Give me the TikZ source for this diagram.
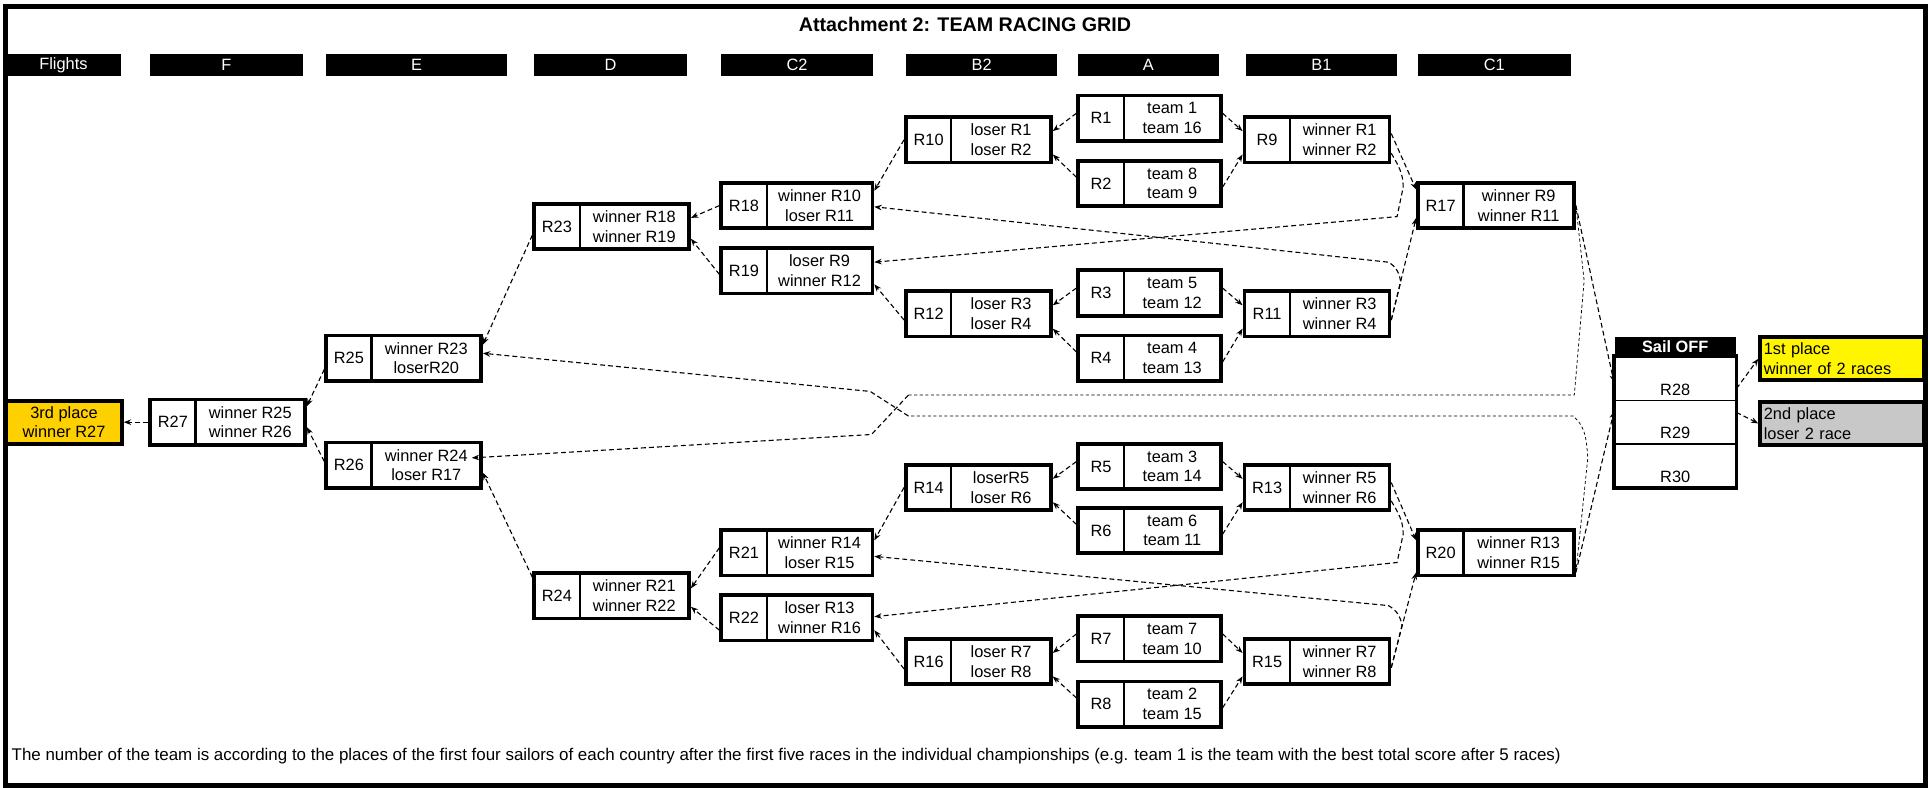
\documentclass[tikz,border=0pt]{standalone}
\usepackage{fontspec}
\setmainfont{Liberation Sans}
\usepackage{tikz}
\usetikzlibrary{arrows.meta,fit,positioning}
\definecolor{firstyellow}{RGB}{255,245,0}
\definecolor{thirdgold}{RGB}{255,208,0}
\definecolor{secondgrey}{RGB}{200,200,200}
\tikzset{
  racelab/.style={draw, line width=0.9pt, minimum width=36pt, minimum height=36pt, inner sep=0pt},
  racetxt/.style={draw, line width=0.9pt, minimum height=36pt, inner sep=0pt, align=center},
  racebox/.style={draw, line width=3pt, inner sep=0pt},
  place/.style={draw, line width=3pt, minimum height=35pt, inner sep=3pt},
  sailcell/.style={draw, line width=1.5pt, minimum width=98pt, minimum height=35.3pt, inner sep=0pt},
  flow/.style={dash pattern=on 4pt off 2.5pt, line width=0.9pt, -{Stealth[length=6pt,width=4.5pt]}},
  farflow/.style={dash pattern=on 2.5pt off 2pt, line width=0.6pt}
}
\newcommand{\race}[4][80pt] {\node at (#2) [racelab, anchor=west] (#3l) {#3};
  \node at (#3l.east) [racetxt, anchor=west, minimum width=#1] (#3t) {#4};
  \node [racebox, fit=(#3l)(#3t)] (#3) {};}
\begin{document}
\begin{tikzpicture}[x=1pt, y=-1pt, font=\fontsize{13.3pt}{16pt}\selectfont]
\useasboundingbox (0,0) rectangle (1568,640);
\draw[line width=4pt] (4.5,5) rectangle (1564,638);

\node (title) at (784,20) {\fontsize{16pt}{19pt}\selectfont\bfseries Attachment 2: TEAM RACING GRID};
\foreach \lab/\xa/\xb in {Flights/5/98, F/122/246, E/265/412, D/434/558, C2/586/709, B2/736/859, A/876/990, B1/1012/1135, C1/1152/1276} {
  \fill (\xa,44) rectangle (\xb,62);
  \node[text=white] (bar\lab) at ({(\xa+\xb)/2},53) {\lab};
}

\race[78pt]{876,96}{R1}{team 1\\team 16}
\race[78pt]{876,149}{R2}{team 8\\team 9}
\race[78pt]{876,238}{R3}{team 5\\team 12}
\race[78pt]{876,291}{R4}{team 4\\team 13}
\race[78pt]{876,379}{R5}{team 3\\team 14}
\race[78pt]{876,431}{R6}{team 6\\team 11}
\race[78pt]{876,519}{R7}{team 7\\team 10}
\race[78pt]{876,572}{R8}{team 2\\team 15}

\race{736,113.5}{R10}{loser R1\\loser R2}
\race{736,255}{R12}{loser R3\\loser R4}
\race{736,396}{R14}{loserR5\\loser R6}
\race{736,537.5}{R16}{loser R7\\loser R8}

\race{1011,113.5}{R9}{winner R1\\winner R2}
\race{1011,255}{R11}{winner R3\\winner R4}
\race{1011,396}{R13}{winner R5\\winner R6}
\race{1011,537.5}{R15}{winner R7\\winner R8}

\race[85pt]{586,167}{R18}{winner R10\\loser R11}
\race[85pt]{586,220}{R19}{loser R9\\winner R12}
\race[85pt]{586,449}{R21}{winner R14\\loser R15}
\race[85pt]{586,502}{R22}{loser R13\\winner R16}

\race[89pt]{1152,167}{R17}{winner R9\\winner R11}
\race[89pt]{1152,449}{R20}{winner R13\\winner R15}

\race[88pt]{434,184}{R23}{winner R18\\winner R19}
\race[88pt]{434,484}{R24}{winner R21\\winner R22}
\race[88pt]{265,291}{R25}{winner R23\\loserR20}
\race[88pt]{265,378}{R26}{winner R24\\loser R17}
\race[88pt]{122,343}{R27}{winner R25\\winner R26}

\node[place, fill=thirdgold, minimum width=94pt, align=center] (third) at (52,343) {3rd place\\winner R27};

\node[fill=black, text=white, minimum width=98pt, minimum height=16pt, inner sep=0pt, font=\fontsize{13.3pt}{16pt}\selectfont\bfseries] (sail) at (1361,282) {Sail OFF};
\node[sailcell] (R28) at (1361,307.7) {};
\node[sailcell] (R29) at (1361,343) {};
\node[sailcell] (R30) at (1361,378.3) {};
\node[anchor=base] (R28lab) at ([yshift=5pt]R28.south) {R28};
\node[anchor=base] (R29lab) at ([yshift=5pt]R29.south) {R29};
\node[anchor=base] (R30lab) at ([yshift=5pt]R30.south) {R30};
\draw[line width=3pt] (R28.north west) rectangle (R30.south east);

\node[place, fill=firstyellow, minimum width=133pt, text width=127pt, align=left] (first) at (1496.5,291.5) {1st place\\winner of 2 races};
\node[place, fill=secondgrey, minimum width=133pt, text width=127pt, align=left] (second) at (1496.5,344) {2nd place\\loser 2 race};

\node[anchor=west, font=\fontsize{13.75pt}{16pt}\selectfont] (note) at (6,614) {The number of the team is according to the places of the first four sailors of each country after the first five races in the individual championships (e.g. team 1 is the team with the best total score after 5 races)};

\foreach \a/\b/\l/\w in {R1/R2/R10/R9, R3/R4/R12/R11, R5/R6/R14/R13, R7/R8/R16/R15} {
  \draw[flow] ([yshift=4pt]\a.west) -- ([yshift=7pt]\l.east);
  \draw[flow] ([yshift=5pt]\b.west) -- ([yshift=-12pt]\l.east);
  \draw[flow] ([yshift=4pt]\a.east) -- ([yshift=7pt]\w.west);
  \draw[flow] ([yshift=-3pt]\b.east) -- ([yshift=-12pt]\w.west);
}

\draw[flow] (R10.west) -- ([yshift=12pt]R18.east);
\draw[flow] ([yshift=-5pt]R12.west) -- ([yshift=-11pt]R19.east);
\draw[flow] (R14.west) -- ([yshift=10pt]R21.east);
\draw[flow] ([yshift=-6pt]R16.west) -- ([yshift=-10pt]R22.east);

\draw[flow] (R18.west) -- ([yshift=7pt]R23.east);
\draw[flow] ([yshift=-3pt]R19.west) -- ([yshift=-10pt]R23.east);
\draw[flow] ([yshift=4pt]R21.west) -- ([yshift=6pt]R24.east);
\draw[flow] ([yshift=-10pt]R22.west) -- ([yshift=-9pt]R24.east);

\draw[flow] ([yshift=-7pt]R23.west) -- ([yshift=11pt]R25.east);
\draw[flow] ([yshift=15pt]R24.west) -- ([yshift=-6pt]R26.east);
\draw[flow] ([yshift=-9pt]R25.west) -- ([yshift=13pt]R27.east);
\draw[flow] ([yshift=3pt]R26.west) -- ([yshift=-4pt]R27.east);
\draw[flow] (R27.west) -- (third.east);

\draw[flow] ([yshift=5pt]R9.east) -- ([yshift=13pt]R17.west);
\draw[flow] ([yshift=-5pt]R11.east) -- ([yshift=-10pt]R17.west);
\draw[flow] ([yshift=4pt]R13.east) -- ([yshift=10pt]R20.west);
\draw[flow] ([yshift=-5pt]R15.east) -- ([yshift=-16pt]R20.west);

\draw[flow] (R17.east) -- ([yshift=-3pt]R28.west);
\draw[flow] ([yshift=-16pt]R20.east) -- ([yshift=9pt]R29.west);
\draw[flow] ([yshift=-8pt]R28.east) -- (first.west);
\draw[flow] ([yshift=8pt]R29.east) -- (second.west);

\coordinate (nineturn) at (1140,152);
\coordinate (ninedrop) at (1135,176);
\coordinate (elevenrise) at (1138,229);
\coordinate (eleventurn) at (1128,213);
\coordinate (thirteenturn) at (1140,434);
\coordinate (thirteendrop) at (1135,457);
\coordinate (fifteenrise) at (1139,508);
\coordinate (fifteenturn) at (1128,492);
\draw[flow] ([yshift=-11pt]R9.east) to[out=-60,in=90] (nineturn) -- (ninedrop) -- ([yshift=7pt]R19.east);
\draw[flow] ([yshift=-5pt]R11.east) -- (elevenrise) to[out=100,in=-30] (eleventurn) -- ([yshift=-1pt]R18.east);
\draw[flow] ([yshift=-11pt]R13.east) to[out=-60,in=90] (thirteenturn) -- (thirteendrop) -- ([yshift=1pt]R22.east);
\draw[flow] ([yshift=-5pt]R15.east) -- (fifteenrise) to[out=100,in=-30] (fifteenturn) -- ([yshift=-3pt]R21.east);

\coordinate (seventeendrop) at (1287,228);
\coordinate (seventeencorner) at (1279,321);
\coordinate (seventeenleft) at (738,321);
\coordinate (seventeencross) at (708,353);
\coordinate (twentyrise) at (1290,372);
\coordinate (twentycorner) at (1278,338);
\coordinate (twentyleft) at (738,338);
\coordinate (twentycross) at (707,318);
\draw[farflow] (R17.east) -- (seventeendrop) -- (seventeencorner) -- (seventeenleft);
\draw[flow] (seventeenleft) -- (seventeencross) -- ([xshift=-9pt,yshift=6pt]R26.east);
\draw[farflow] ([yshift=-16pt]R20.east) -- (twentyrise) to[out=95,in=-40] (twentycorner) -- (twentyleft);
\draw[flow] (twentyleft) -- (twentycross) -- ([yshift=4pt]R25.east);

\end{tikzpicture}
\end{document}
